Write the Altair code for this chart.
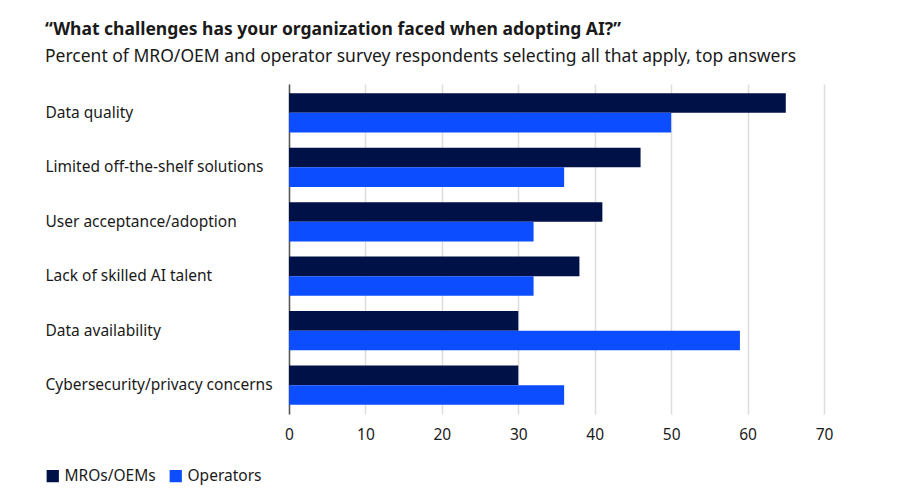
import altair as alt
import pandas as pd

# Survey answers, percent of respondents selecting each challenge
challenges = [
    "Data quality",
    "Limited off-the-shelf solutions",
    "User acceptance/adoption",
    "Lack of skilled AI talent",
    "Data availability",
    "Cybersecurity/privacy concerns",
]
mro_oem = [65, 46, 41, 38, 30, 30]
operators = [50, 36, 32, 32, 59, 36]
groups = ["MROs/OEMs", "Operators"]
colors = ["#001147", "#0C4DFF"]

rows = []
for c, a, b in zip(challenges, mro_oem, operators):
    rows.append({"challenge": c, "group": groups[0], "pct": a})
    rows.append({"challenge": c, "group": groups[1], "pct": b})
df = pd.DataFrame(rows)

FONT = "Noto Sans"

chart = (
    alt.Chart(df)
    .mark_bar()
    .encode(
        y=alt.Y(
            "challenge:N",
            sort=challenges,
            title=None,
            scale=alt.Scale(paddingInner=0.28, paddingOuter=0.17),
            axis=alt.Axis(
                labelAlign="left",
                labelPadding=244,
                labelFontSize=15.5,
                labelColor="#1a1a1a",
                labelFont=FONT,
                ticks=False,
                domain=True,
                domainColor="#555555",
                domainWidth=1.5,
                labelLimit=300,
            ),
        ),
        yOffset=alt.YOffset("group:N", sort=groups),
        x=alt.X(
            "pct:Q",
            title=None,
            scale=alt.Scale(domain=[0, 70]),
            axis=alt.Axis(
                values=[0, 10, 20, 30, 40, 50, 60, 70],
                labelFontSize=15.5,
                labelColor="#1a1a1a",
                labelFont=FONT,
                labelFlush=False,
                ticks=False,
                domain=False,
                grid=True,
                gridColor="#dddddd",
                gridWidth=1.5,
                labelPadding=13,
            ),
        ),
        color=alt.Color(
            "group:N",
            sort=groups,
            scale=alt.Scale(domain=groups, range=colors),
            legend=alt.Legend(
                title=None,
                orient="none",
                legendX=-244,
                legendY=384,
                direction="horizontal",
                symbolType="square",
                symbolSize=150,
                symbolStrokeWidth=0,
                labelFontSize=15.5,
                labelFont=FONT,
                labelColor="#1a1a1a",
                columnPadding=12,
                symbolOpacity=1,
            ),
        ),
    )
    .properties(
        width=535,
        height=330,
        autosize=alt.AutoSizeParams(type="none"),
        padding={"left": 289, "top": 84, "right": 76, "bottom": 86},
        title=alt.TitleParams(
            text="\u201cWhat challenges has your organization faced when adopting AI?\u201d",
            subtitle="Percent of MRO/OEM and operator survey respondents selecting all that apply, top answers",
            anchor="start",
            offset=19,
            font=FONT,
            fontSize=17.5,
            fontWeight="bold",
            color="#1a1a1a",
            subtitleFont=FONT,
            subtitleFontSize=17.5,
            subtitleColor="#1a1a1a",
            subtitlePadding=9,
        ),
    )
    .configure_view(stroke=None)
)

chart.save("out.html", embed_options={"renderer": "svg", "actions": False})
